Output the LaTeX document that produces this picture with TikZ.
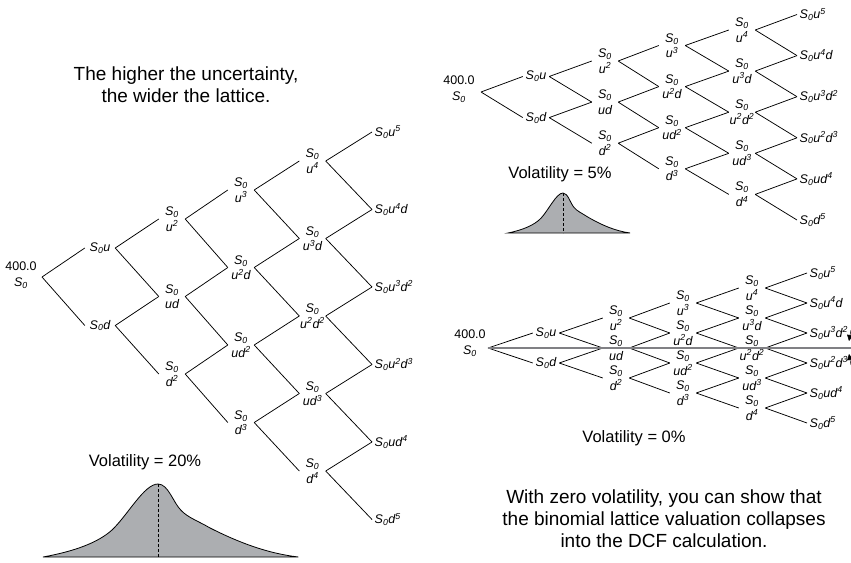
\documentclass[tikz,border=0pt]{standalone}
\usepackage{fontspec}
\setmainfont{Liberation Sans}
\usepackage{tikz}
\usetikzlibrary{arrows.meta}
\definecolor{bellgray}{RGB}{172,174,177}
\definecolor{linegray}{RGB}{128,128,132}
\newcommand{\Sz}{S\textsubscript{0}}
\newcommand{\expo}[1]{\textsuperscript{#1}}

\begin{document}
\begin{tikzpicture}[
    x=1pt, y=-1pt,
    >={Triangle[length=6pt, width=6pt]},
    lat/.style={font=\fontsize{12.5}{15.5}\selectfont\itshape, align=center, inner sep=0pt, minimum width=26pt},
    leaf/.style={font=\fontsize{12.5}{15.5}\selectfont\itshape, anchor=west, inner xsep=2.5pt, inner ysep=0pt},
    root/.style={font=\fontsize{12.5}{15.5}\selectfont, align=center, inner sep=0pt},
    capt/.style={font=\fontsize{19}{22}\selectfont, align=center},
    vol/.style={font=\fontsize{16.5}{18}\selectfont},
    edge/.style={line width=0.75pt},
    zeroline/.style={line width=2.2pt, linegray},
    bellcurve/.pic={
        \filldraw[fill=bellgray, draw=black, line width=0.8pt] (-1,1) .. controls (-0.72,0.92) and (-0.52,0.8) .. (-0.4,0.63)
            .. controls (-0.26,0.42) and (-0.12,0) .. (0,0)
            .. controls (0.09,0) and (0.13,0.25) .. (0.2,0.36)
            .. controls (0.26,0.46) and (0.34,0.5) .. (0.45,0.6)
            .. controls (0.7,0.8) and (0.95,0.95) .. (1.22,1) -- cycle;
        \draw[densely dashed, line width=0.6pt] (0,0) -- (0,1);
    },
]
    \useasboundingbox (0,0) rectangle (851,562);

    % sigma = 20%
    \node[capt] (hcap) at (186,85) {The higher the uncertainty,\\the wider the lattice.};

    \node[root] (h0t) at (21,275) {400.0\\\textit{\Sz}};
    \coordinate (h0) at (42,277);
    \node[lat, minimum width=30pt] (h10) at (100,248) {\Sz u};
    \node[lat, minimum width=30pt] (h11) at (100,325.5) {\Sz d};
    \node[lat] (h20) at (172,219) {\Sz\\u\expo{2}};
    \node[lat] (h21) at (172,296.5) {\Sz\\ud};
    \node[lat] (h22) at (172,374) {\Sz\\d\expo{2}};
    \node[lat] (h30) at (241,190) {\Sz\\u\expo{3}};
    \node[lat] (h31) at (241,267.5) {\Sz\\u\expo{2}d};
    \node[lat] (h32) at (241,345) {\Sz\\ud\expo{2}};
    \node[lat] (h33) at (241,422.5) {\Sz\\d\expo{3}};
    \node[lat] (h40) at (312.5,161) {\Sz\\u\expo{4}};
    \node[lat] (h41) at (312.5,238.5) {\Sz\\u\expo{3}d};
    \node[lat] (h42) at (312.5,316) {\Sz\\u\expo{2}d\expo{2}};
    \node[lat] (h43) at (312.5,393.5) {\Sz\\ud\expo{3}};
    \node[lat] (h44) at (312.5,471) {\Sz\\d\expo{4}};
    \node[leaf] (h50) at (372,132) {\Sz u\expo{5}};
    \node[leaf] (h51) at (372,209.5) {\Sz u\expo{4}d};
    \node[leaf] (h52) at (372,287) {\Sz u\expo{3}d\expo{2}};
    \node[leaf] (h53) at (372,364.5) {\Sz u\expo{2}d\expo{3}};
    \node[leaf] (h54) at (372,442) {\Sz ud\expo{4}};
    \node[leaf] (h55) at (372,519.5) {\Sz d\expo{5}};

    \draw[edge] (h0) -- (h10.west) (h0) -- (h11.west);
    \draw[edge] (h10.east) -- (h20.west) (h10.east) -- (h21.west);
    \draw[edge] (h11.east) -- (h21.west) (h11.east) -- (h22.west);
    \draw[edge] (h20.east) -- (h30.west) (h20.east) -- (h31.west);
    \draw[edge] (h21.east) -- (h31.west) (h21.east) -- (h32.west);
    \draw[edge] (h22.east) -- (h32.west) (h22.east) -- (h33.west);
    \draw[edge] (h30.east) -- (h40.west) (h30.east) -- (h41.west);
    \draw[edge] (h31.east) -- (h41.west) (h31.east) -- (h42.west);
    \draw[edge] (h32.east) -- (h42.west) (h32.east) -- (h43.west);
    \draw[edge] (h33.east) -- (h43.west) (h33.east) -- (h44.west);
    \draw[edge] (h40.east) -- (h50.west) (h40.east) -- (h51.west);
    \draw[edge] (h41.east) -- (h51.west) (h41.east) -- (h52.west);
    \draw[edge] (h42.east) -- (h52.west) (h42.east) -- (h53.west);
    \draw[edge] (h43.east) -- (h53.west) (h43.east) -- (h54.west);
    \draw[edge] (h44.east) -- (h54.west) (h44.east) -- (h55.west);

    \node[vol] (hvol) at (145,462) {Volatility = 20\%};
    \pic[shift={(158,484)}, xscale=115, yscale=73] {bellcurve};

    % sigma = 5%
    \node[root] (m0t) at (459,89) {400.0\\\textit{\Sz}};
    \coordinate (m0) at (481,92);
    \node[lat] (m10) at (536,76.5) {\Sz u};
    \node[lat] (m11) at (536,117.6) {\Sz d};
    \node[lat] (m20) at (605,61) {\Sz\\u\expo{2}};
    \node[lat] (m21) at (605,102.1) {\Sz\\ud};
    \node[lat] (m22) at (605,143.2) {\Sz\\d\expo{2}};
    \node[lat] (m30) at (672,45.5) {\Sz\\u\expo{3}};
    \node[lat] (m31) at (672,86.6) {\Sz\\u\expo{2}d};
    \node[lat] (m32) at (672,127.7) {\Sz\\ud\expo{2}};
    \node[lat] (m33) at (672,168.8) {\Sz\\d\expo{3}};
    \node[lat] (m40) at (742,30) {\Sz\\u\expo{4}};
    \node[lat] (m41) at (742,71.1) {\Sz\\u\expo{3}d};
    \node[lat] (m42) at (742,112.2) {\Sz\\u\expo{2}d\expo{2}};
    \node[lat] (m43) at (742,153.3) {\Sz\\ud\expo{3}};
    \node[lat] (m44) at (742,194.4) {\Sz\\d\expo{4}};
    \node[leaf] (m50) at (797,14.5) {\Sz u\expo{5}};
    \node[leaf] (m51) at (797,55.6) {\Sz u\expo{4}d};
    \node[leaf] (m52) at (797,96.7) {\Sz u\expo{3}d\expo{2}};
    \node[leaf] (m53) at (797,137.8) {\Sz u\expo{2}d\expo{3}};
    \node[leaf] (m54) at (797,178.9) {\Sz ud\expo{4}};
    \node[leaf] (m55) at (797,220) {\Sz d\expo{5}};

    \draw[edge] (m0) -- (m10.west) (m0) -- (m11.west);
    \draw[edge] (m10.east) -- (m20.west) (m10.east) -- (m21.west);
    \draw[edge] (m11.east) -- (m21.west) (m11.east) -- (m22.west);
    \draw[edge] (m20.east) -- (m30.west) (m20.east) -- (m31.west);
    \draw[edge] (m21.east) -- (m31.west) (m21.east) -- (m32.west);
    \draw[edge] (m22.east) -- (m32.west) (m22.east) -- (m33.west);
    \draw[edge] (m30.east) -- (m40.west) (m30.east) -- (m41.west);
    \draw[edge] (m31.east) -- (m41.west) (m31.east) -- (m42.west);
    \draw[edge] (m32.east) -- (m42.west) (m32.east) -- (m43.west);
    \draw[edge] (m33.east) -- (m43.west) (m33.east) -- (m44.west);
    \draw[edge] (m40.east) -- (m50.west) (m40.east) -- (m51.west);
    \draw[edge] (m41.east) -- (m51.west) (m41.east) -- (m52.west);
    \draw[edge] (m42.east) -- (m52.west) (m42.east) -- (m53.west);
    \draw[edge] (m43.east) -- (m53.west) (m43.east) -- (m54.west);
    \draw[edge] (m44.east) -- (m54.west) (m44.east) -- (m55.west);

    \node[vol] (mvol) at (560,174) {Volatility = 5\%};
    \pic[shift={(563,193)}, xscale=55, yscale=40] {bellcurve};

    % sigma = 0%
    \node[root] (z0t) at (470,343) {400.0\\\textit{\Sz}};
    \coordinate (z0) at (488,348);
    \node[lat] (z10) at (546,333) {\Sz u};
    \node[lat] (z11) at (546,363) {\Sz d};
    \node[lat] (z20) at (616,318) {\Sz\\u\expo{2}};
    \node[lat] (z21) at (616,348) {\Sz\\ud};
    \node[lat] (z22) at (616,378) {\Sz\\d\expo{2}};
    \node[lat] (z30) at (683,303) {\Sz\\u\expo{3}};
    \node[lat] (z31) at (683,333) {\Sz\\u\expo{2}d};
    \node[lat] (z32) at (683,363) {\Sz\\ud\expo{2}};
    \node[lat] (z33) at (683,393) {\Sz\\d\expo{3}};
    \node[lat] (z40) at (752,288) {\Sz\\u\expo{4}};
    \node[lat] (z41) at (752,318) {\Sz\\u\expo{3}d};
    \node[lat] (z42) at (752,348) {\Sz\\u\expo{2}d\expo{2}};
    \node[lat] (z43) at (752,378) {\Sz\\ud\expo{3}};
    \node[lat] (z44) at (752,408) {\Sz\\d\expo{4}};
    \node[leaf] (z50) at (807,273) {\Sz u\expo{5}};
    \node[leaf] (z51) at (807,303) {\Sz u\expo{4}d};
    \node[leaf] (z52) at (807,333) {\Sz u\expo{3}d\expo{2}};
    \node[leaf] (z53) at (807,363) {\Sz u\expo{2}d\expo{3}};
    \node[leaf] (z54) at (807,393) {\Sz ud\expo{4}};
    \node[leaf] (z55) at (807,423) {\Sz d\expo{5}};

    \draw[edge] (z0) -- (z10.west) (z0) -- (z11.west);
    \draw[edge] (z10.east) -- (z20.west) (z10.east) -- (z21.west);
    \draw[edge] (z11.east) -- (z21.west) (z11.east) -- (z22.west);
    \draw[edge] (z20.east) -- (z30.west) (z20.east) -- (z31.west);
    \draw[edge] (z21.east) -- (z31.west) (z21.east) -- (z32.west);
    \draw[edge] (z22.east) -- (z32.west) (z22.east) -- (z33.west);
    \draw[edge] (z30.east) -- (z40.west) (z30.east) -- (z41.west);
    \draw[edge] (z31.east) -- (z41.west) (z31.east) -- (z42.west);
    \draw[edge] (z32.east) -- (z42.west) (z32.east) -- (z43.west);
    \draw[edge] (z33.east) -- (z43.west) (z33.east) -- (z44.west);
    \draw[edge] (z40.east) -- (z50.west) (z40.east) -- (z51.west);
    \draw[edge] (z41.east) -- (z51.west) (z41.east) -- (z52.west);
    \draw[edge] (z42.east) -- (z52.west) (z42.east) -- (z53.west);
    \draw[edge] (z43.east) -- (z53.west) (z43.east) -- (z54.west);
    \draw[edge] (z44.east) -- (z54.west) (z44.east) -- (z55.west);

    % DCF line
    \coordinate (zend) at (851,348);
    \draw[zeroline] (z0) -- (zend);
    \coordinate (za1) at (851,330);
    \coordinate (za2) at (849,341);
    \coordinate (zb1) at (851,365);
    \coordinate (zb2) at (849,354);
    \draw[->, line width=0.5pt] (za1) -- (za2);
    \draw[->, line width=0.5pt] (zb1) -- (zb2);

    \node[vol] (zvol) at (634,438) {Volatility = 0\%};
    \node[capt] (zcap) at (664,519) {With zero volatility, you can show that\\the binomial lattice valuation collapses\\into the DCF calculation.};
\end{tikzpicture}
\end{document}
